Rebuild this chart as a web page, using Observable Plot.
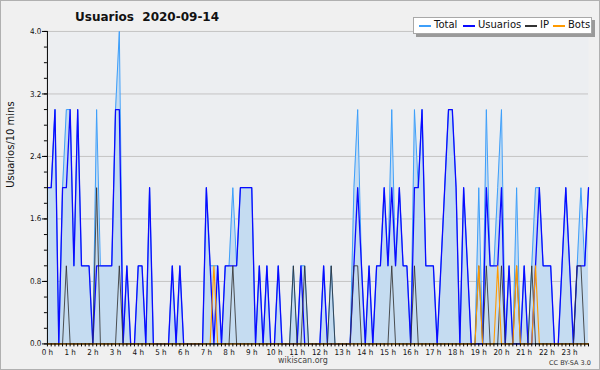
<!DOCTYPE html>
<html>
<head>
<meta charset="utf-8">
<script src="https://cdn.jsdelivr.net/npm/d3@7"></script>
<script src="https://cdn.jsdelivr.net/npm/@observablehq/plot@0.6"></script>
<style>
  html, body { margin: 0; padding: 0; background: #f0f0f0; }
  #wrap { position: relative; width: 600px; height: 370px; box-sizing: border-box; border: 1px solid #b0b0b0; background: #f0f0f0; overflow: hidden; font-family: "DejaVu Sans", sans-serif; }
  #chart { position: absolute; left: -1px; top: -1px; }
  .abs { position: absolute; white-space: pre; line-height: 1; }
  #title { left: 74px; top: 10px; font-size: 12px; font-weight: bold; color: #111; }
  #legend { left: 412px; top: 16px; width: 177px; height: 15px; background: #fff; border: 1px solid #a8a8a8; box-shadow: 3px 3px 0 #9a9a9a; }
  .sw { position: absolute; top: 7px; width: 12px; height: 1.5px; }
  .lt { position: absolute; top: 2px; font-size: 10px; color: #111; white-space: pre; line-height: 1; }
  #foot { left: 277px; top: 356px; font-size: 8px; color: #444; }
  #cc { left: 548px; top: 359px; font-size: 6.5px; color: #333; }
</style>
</head>
<body>
<div id="wrap">
  <div id="chart"></div>
  <div id="title" class="abs"></div>
  <div id="legend" class="abs"></div>
  <div id="foot" class="abs"></div>
  <div id="cc" class="abs"></div>
</div>
<script>
// ---- data (10-minute intervals, 144 per day) ----
const titleText = "Usuarios  2020-09-14";
const yLabel = "Usuarios/10 mins";
const footText = "wikiscan.org";
const ccText = "CC BY-SA 3.0";

const usuarios = [
  2,2,3,0,2,2,3,1,3,1,
  1,1,0,1,1,1,1,1,3,3,
  0,1,0,0,1,1,0,2,0,0,
  0,0,0,1,0,1,0,0,0,0,
  0,0,2,1,0,1,0,1,1,1,
  1,2,2,2,2,0,1,0,1,0,
  0,1,0,0,0,0,0,1,0,0,
  0,0,0,1,0,0,0,0,0,0,
  0,1,2,1,0,1,0,1,1,2,
  1,2,1,2,1,1,0,2,2,3,
  1,1,1,0,1,2,3,3,2,0,
  2,1,0,0,0,0,2,1,1,1,
  2,0,1,0,0,0,1,0,0,1,
  2,1,1,1,0,0,1,2,1,0,
  1,1,1,2
];
const ip = [
  0,0,0,0,0,1,0,0,0,0,
  0,0,0,2,0,0,0,0,0,1,
  0,0,0,0,0,0,0,0,0,0,
  0,0,0,0,0,0,0,0,0,0,
  0,0,0,0,0,0,0,0,0,1,
  0,0,0,0,0,0,0,0,0,0,
  0,0,0,0,0,1,0,0,1,0,
  0,0,0,0,0,1,0,0,0,0,
  0,1,1,0,0,0,0,0,0,0,
  0,1,0,0,0,0,0,1,0,0,
  0,0,0,0,0,0,0,0,0,0,
  0,0,0,0,1,0,1,0,0,0,
  1,0,0,0,1,0,0,0,1,0,
  0,0,0,0,0,0,0,0,0,0,
  1,1,0,0
];
const bots = [
  0,0,0,0,0,0,0,0,0,0,
  0,0,0,0,0,0,0,0,0,0,
  0,0,0,0,0,0,0,0,0,0,
  0,0,0,0,0,0,0,0,0,0,
  0,0,0,0,1,0,0,0,0,0,
  0,0,0,0,0,0,0,0,0,0,
  0,0,0,0,0,0,0,0,0,0,
  0,0,0,0,0,0,0,0,0,0,
  0,0,0,0,0,0,0,0,0,0,
  0,0,0,0,0,0,0,0,0,0,
  0,0,0,0,0,0,0,0,0,0,
  0,0,0,0,1,0,0,0,0,1,
  0,0,0,0,1,0,0,0,0,1,
  0,0,0,0,0,0,0,0,0,0,
  0,0,0,0
];
const total = [
  2,2,3,0,2,3,3,1,3,1,
  1,1,0,3,1,1,1,1,3,4,
  0,1,0,0,1,1,0,2,0,0,
  0,0,0,1,0,1,0,0,0,0,
  0,0,2,1,1,1,0,1,1,2,
  1,2,2,2,2,0,1,0,1,0,
  0,1,0,0,0,1,0,1,1,0,
  0,0,0,1,0,1,0,0,0,0,
  0,2,3,1,0,1,0,1,1,2,
  1,3,1,2,1,1,0,3,2,3,
  1,1,1,0,1,2,3,3,2,0,
  2,1,0,0,2,0,3,1,1,2,
  3,0,1,0,2,0,1,0,1,2,
  2,1,1,1,0,0,1,2,1,0,
  1,2,1,2
];

// tick values
const yLabelTicks = [0, 0.8, 1.6, 2.4, 3.2, 4.0];
const yMinorTicks = d3.range(0, 21).map(k => k * 0.2);
const hourTicks = d3.range(0, 24);
const minorXTicks = d3.range(0, 144).map(k => k / 6);

const series = [
  {name: "Total", color: "#3d9ffa"},
  {name: "Usuarios", color: "#0a0aff"},
  {name: "IP", color: "#333333"},
  {name: "Bots", color: "#ff9a00"}
];

const data = usuarios.map((u, i) => ({
  h: i / 6, usuarios: u, ip: ip[i], bots: bots[i], total: total[i]
}));

const chart = Plot.plot({
  width: 600,
  height: 370,
  marginLeft: 47,
  marginRight: 11,
  marginTop: 31,
  marginBottom: 26,
  style: {background: "transparent", fontFamily: "'DejaVu Sans Condensed', 'DejaVu Sans', sans-serif", fontSize: "8px", color: "#111"},
  x: {domain: [0, 143 / 6]},
  y: {domain: [0, 4]},
  marks: [
    Plot.frame({fill: "#eceef1", stroke: null}),
    Plot.gridY(yLabelTicks, {stroke: "#c4c4c4", strokeOpacity: 1}),
    Plot.areaY(data, {x: "h", y: "total", fill: "#c5dcf1"}),
    Plot.lineY(data, {x: "h", y: "total", stroke: series[0].color, strokeWidth: 1}),
    Plot.lineY(data, {x: "h", y: "usuarios", stroke: series[1].color, strokeWidth: 1.3}),
    Plot.lineY(data, {x: "h", y: "ip", stroke: series[2].color, strokeWidth: 1, strokeOpacity: 0.85}),
    Plot.lineY(data, {x: "h", y: "bots", stroke: series[3].color, strokeWidth: 1.1}),
    Plot.ruleX([0], {stroke: "#000"}),
    Plot.ruleY([0], {stroke: "#000"}),
    Plot.axisY(yMinorTicks, {tickSize: 3, tickFormat: () => "", label: null, stroke: "#000"}),
    Plot.axisY(yLabelTicks, {tickSize: 5, tickPadding: 1, tickFormat: d3.format(".1f"), label: null, stroke: "#000"}),
    Plot.axisX(minorXTicks, {tickSize: 3, tickFormat: () => "", label: null, stroke: "#000"}),
    Plot.axisX(hourTicks, {tickSize: 0, tickPadding: 5, tickFormat: d => d + " h", label: null}),
    Plot.text([yLabel], {frameAnchor: "left", dx: -37, rotate: -90, fontSize: 10, fontFamily: "DejaVu Sans", fill: "#111"})
  ]
});
document.getElementById("chart").appendChild(chart);

document.getElementById("title").textContent = titleText;
document.getElementById("foot").textContent = footText;
document.getElementById("cc").textContent = ccText;

// legend (positions relative to legend box)
const legendPos = [
  {sw: 5, tx: 20},
  {sw: 49, tx: 64},
  {sw: 111, tx: 126},
  {sw: 139, tx: 154}
];
const legend = document.getElementById("legend");
series.forEach((s, k) => {
  const sw = document.createElement("div");
  sw.className = "sw";
  sw.style.left = legendPos[k].sw + "px";
  sw.style.background = s.color;
  legend.appendChild(sw);
  const t = document.createElement("div");
  t.className = "lt";
  t.style.left = legendPos[k].tx + "px";
  t.textContent = s.name;
  legend.appendChild(t);
});
</script>
</body>
</html>
